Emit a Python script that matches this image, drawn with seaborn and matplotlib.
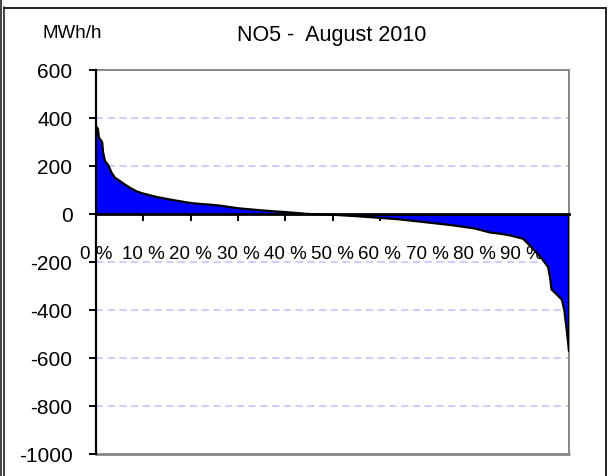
import matplotlib
matplotlib.use("Agg")
import matplotlib.pyplot as plt
import seaborn as sns
import pandas as pd
from matplotlib.lines import Line2D

# ---- data ----
pct = [0, 0.15, 0.4, 0.6, 1.3, 1.5, 1.9, 2.6, 3.3, 4.0, 5.1, 6.1, 7.2, 8.6,
       10, 12.8, 16.3, 19.9, 22, 24.1, 26.2, 30, 35, 40, 45, 50, 55, 60, 64,
       70, 75, 80, 83.3, 85.4, 87.5, 90.3, 92.4, 94.6, 95.6, 96, 96.3, 97.4,
       98.5, 99.0, 99.5, 100]
values = [362, 362, 355, 320, 299, 257, 221, 203, 172, 151, 137, 123, 109, 94,
          85, 71, 58, 46, 42, 39, 35, 24, 15, 8, 0, -3, -9, -16, -22,
          -35, -46, -60, -77, -82, -89, -103, -145, -194, -222, -265, -314, -335,
          -357, -400, -480, -570]
x_ticks = [0, 10, 20, 30, 40, 50, 60, 70, 80, 90, 100]
x_tick_labels = ["0 %", "10 %", "20 %", "30 %", "40 %", "50 %", "60 %",
                 "70 %", "80 %", "90 %", ""]
y_ticks = [600, 400, 200, 0, -200, -400, -600, -800, -1000]
grid_values = [400, 200, -200, -400, -600, -800]
title = "NO5 -  August 2010"
unit_label = "MWh/h"

sns.set_style("white")
plt.rcParams["font.family"] = ["Liberation Sans", "DejaVu Sans"]

W, H = 611, 477
fig = plt.figure(figsize=(W / 100, H / 100), dpi=100)
ax = fig.add_axes([96 / W, 22 / H, 473 / W, 384 / H])

df = pd.DataFrame({"pct": pct, "value": values})
ax.fill_between(df["pct"], df["value"], 0, color="#0000FF", linewidth=0, zorder=2)
sns.lineplot(data=df, x="pct", y="value", ax=ax, color="black", linewidth=1.6,
             zorder=3, estimator=None, sort=False)
ax.plot([pct[0], pct[0]], [0, values[0]], color="black", linewidth=1.6, zorder=3)
ax.plot([pct[-1], pct[-1]], [0, values[-1]], color="black", linewidth=1.6, zorder=3)

for g in grid_values:
    ax.axhline(g, color="#C8C8FF", linestyle=(0, (4, 2.5)), linewidth=1.3, zorder=1)

ax.set_xlim(0, 100)
ax.set_ylim(-1000, 600)
ax.set_xlabel("")
ax.set_ylabel("")

ax.spines["left"].set_color("black")
ax.spines["left"].set_linewidth(1.6)
ax.spines["left"].set_zorder(4)
for s in ["top", "right"]:
    ax.spines[s].set_color("#888888")
    ax.spines[s].set_linewidth(1.4)
ax.spines["bottom"].set_position(("data", 0))
ax.spines["bottom"].set_color("black")
ax.spines["bottom"].set_linewidth(2.0)
ax.spines["bottom"].set_zorder(4)
ax.axhline(-1000, color="#888888", linewidth=2.0, zorder=4, clip_on=False)

ax.set_yticks(y_ticks)
ax.set_yticklabels([str(v) for v in y_ticks])
ax.set_xticks(x_ticks)
ax.set_xticklabels(x_tick_labels)
ax.tick_params(axis="y", direction="out", length=5, width=1.4, color="black",
               labelsize=15, pad=12, left=True, labelcolor="black")
ax.tick_params(axis="x", direction="out", length=5, width=1.4, color="black",
               labelsize=13.5, pad=17, bottom=True, labelcolor="black")

fig.text(332 / W, 1 - 35.5 / H, title, ha="center", va="center", fontsize=15.5,
         color="black")
fig.text(72 / W, 1 - 34 / H, unit_label, ha="center", va="center", fontsize=13.5,
         color="black")

frame_col = "#222222"
fig.add_artist(Line2D([0.8 / W, 0.8 / W], [0, 1], transform=fig.transFigure,
                      color=frame_col, linewidth=1.2))
fig.add_artist(Line2D([3.6 / W, 3.6 / W], [0, 1 - 8 / H], transform=fig.transFigure,
                      color=frame_col, linewidth=1.2))
fig.add_artist(Line2D([3.6 / W, 606 / W], [1 - 8.5 / H, 1 - 8.5 / H],
                      transform=fig.transFigure, color=frame_col, linewidth=1.4))
fig.add_artist(Line2D([606 / W, 606 / W], [0, 1 - 8.5 / H], transform=fig.transFigure,
                      color=frame_col, linewidth=1.4))

fig.savefig("out.png", dpi=100)
